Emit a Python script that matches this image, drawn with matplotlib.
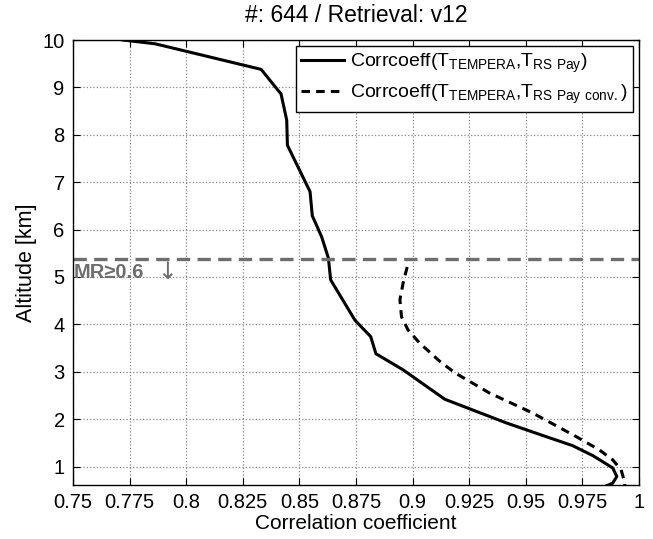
import numpy as np
import matplotlib
matplotlib.use('Agg')
import matplotlib.pyplot as plt

# ----------- data ----------------------------------------------------------

# correlation TEMPERA vs RS Pay [-], altitude [km]
corr_pay = [0.772, 0.7863, 0.8331, 0.8419, 0.8444, 0.8447, 0.8547, 0.8557,
            0.8598, 0.8628, 0.8638, 0.8745, 0.8815, 0.8838, 0.8958, 0.9142,
            0.9414, 0.959, 0.9707, 0.9796, 0.9884, 0.9902, 0.9884, 0.985]
alt_pay = [10.0, 9.92, 9.38, 8.86, 8.31, 7.78, 6.80, 6.29,
           5.85, 5.40, 4.94, 4.09, 3.74, 3.38, 3.04, 2.42,
           1.92, 1.63, 1.44, 1.23, 0.97, 0.79, 0.65, 0.58]

# correlation TEMPERA vs RS Pay conv. [-]
corr_conv = [0.8976, 0.8958, 0.8944, 0.8951, 0.898, 0.9032, 0.912, 0.9186,
             0.934, 0.953, 0.9723, 0.9825, 0.9884, 0.9921, 0.9936, 0.9938]
alt_conv = [5.21, 4.87, 4.52, 4.16, 3.88, 3.60, 3.22, 2.98,
            2.55, 2.13, 1.63, 1.35, 1.14, 0.93, 0.68, 0.58]

mr_alt = 5.37            # altitude where measurement response drops below 0.6 [km]
xticks = [0.75, 0.775, 0.8, 0.825, 0.85, 0.875, 0.9, 0.925, 0.95, 0.975, 1.0]
xtick_labels = ['0.75', '0.775', '0.8', '0.825', '0.85', '0.875', '0.9',
                '0.925', '0.95', '0.975', '1']
yticks = [1, 2, 3, 4, 5, 6, 7, 8, 9, 10]

# -------------- Plot Figure -------------------------------------------------
plt.rcParams['font.family'] = ['Liberation Sans', 'DejaVu Sans']
plt.rcParams['font.size'] = 14.5

fig = plt.figure(figsize=(6.53, 5.39), dpi=100)
ax = fig.add_axes([73/653, 1-485/539, (639-73)/653, (485-40)/539])

ax.plot(corr_pay, alt_pay, color='k', lw=2.2,
        label=r'Corrcoeff(T$_\mathregular{TEMPERA}$,T$_\mathregular{RS\ Pay}$)')
ax.plot(corr_conv, alt_conv, color='k', lw=2.2, ls='--', dashes=(2.8, 2.0),
        label=r'Corrcoeff(T$_\mathregular{TEMPERA}$,T$_\mathregular{RS\ Pay\ conv.}$)')

# MR limit
gray = '#6e6e6e'
ax.axhline(mr_alt, color=gray, lw=2.4, ls='--', dashes=(4, 2.2))
ax.text(0.7503, mr_alt - 0.08, u'MR\u22650.6', color=gray, fontweight='bold',
        va='top', ha='left', fontsize=14.5)
ax.text(0.7872, mr_alt - 0.02, u'\u2193', color=gray,
        va='top', ha='left', fontsize=17, family=['DejaVu Sans'])

ax.set_xlim(0.75, 1.0)
ax.set_ylim(0.61, 10)
ax.set_xticks(xticks)
ax.set_xticklabels(xtick_labels)
ax.set_yticks(yticks)
ax.tick_params(direction='in', top=True, right=True, length=5, width=0.8,
               labelsize=14.5, pad=6)
ax.grid(True, ls=':', color='#888888', lw=0.9)
for sp in ax.spines.values():
    sp.set_linewidth(1.0)

ax.set_xlabel('Correlation coefficient', fontsize=15, labelpad=1)
ax.set_ylabel('Altitude [km]', fontsize=15.5, labelpad=4)
ax.set_title('#: 644 / Retrieval: v12', fontsize=16.5, pad=13)

leg = ax.legend(loc='upper right', fontsize=14, fancybox=False,
                framealpha=1, edgecolor='k', borderaxespad=0.3,
                handlelength=2.2, handletextpad=0.3, borderpad=0.3,
                labelspacing=0.4)
leg.get_frame().set_linewidth(1.0)

fig.savefig('out.png', dpi=100)
